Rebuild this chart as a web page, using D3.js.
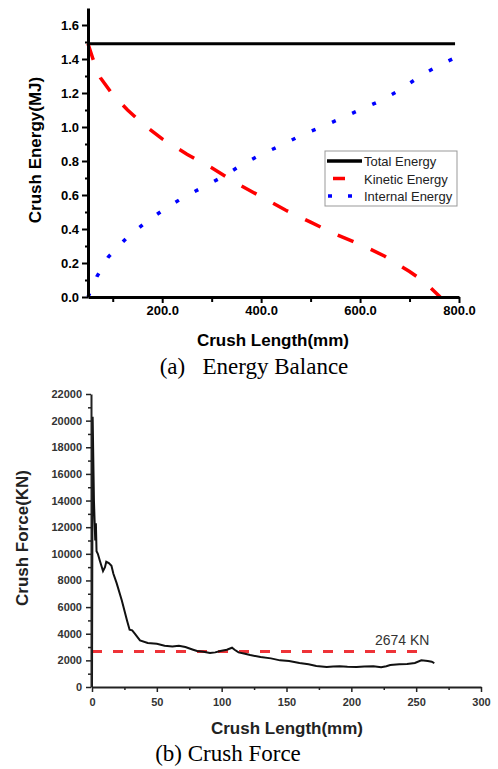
<!DOCTYPE html>
<html>
<head>
<meta charset="utf-8">
<script src="https://cdn.jsdelivr.net/npm/d3@7"></script>
<style>
    body { margin: 0; background: #fff; }
    svg { display: block; }
    .axis text { font-family: "Liberation Sans", Arial, sans-serif; font-weight: bold; fill: #000; }
    .axis2 text { fill: #333; }
</style>
</head>
<body>
<svg id="chart" width="498" height="769"></svg>
<script>
// (a) energy balance
var totalX = [50, 792];
var totalE = [1.49, 1.49];

var kineticX = [50, 60, 75, 100, 130, 160, 200, 250, 300, 350, 400, 450, 500, 550, 600, 650, 700, 730, 762];
var kineticE = [1.49, 1.40, 1.29, 1.19, 1.10, 1.02, 0.93, 0.84, 0.76, 0.67, 0.59, 0.51, 0.44, 0.37, 0.31, 0.24, 0.15, 0.09, 0.0];

var internalX = [50, 68, 91, 129, 167, 206, 245, 285, 324, 362, 401, 439, 480, 522, 561, 599, 638, 676, 717, 733, 772, 794];
var internalE = [0, 0.12, 0.235, 0.35, 0.44, 0.52, 0.59, 0.65, 0.71, 0.78, 0.84, 0.89, 0.95, 1.0, 1.05, 1.10, 1.15, 1.21, 1.29, 1.32, 1.38, 1.41];

var energyTicks = [0, 0.2, 0.4, 0.6, 0.8, 1.0, 1.2, 1.4, 1.6];
var energyMinor = [0.1, 0.3, 0.5, 0.7, 0.9, 1.1, 1.3, 1.5];
var lengthTicksA = [200, 400, 600, 800];
var lengthMinorA = [100, 300, 500, 700];
var legendNames = ["Total Energy", "Kinetic Energy", "Internal Energy"];

// (b) crush force
var crushX = [0, 0.5, 1.5, 2.5, 3, 3.5, 4.5, 6, 8.5, 10, 11, 13, 15, 16.5, 19, 23, 27, 29, 31, 33, 37, 43, 50, 56, 62, 67, 72, 78, 81, 86, 91, 95, 99, 104, 108, 110, 113, 118, 122, 130, 138, 145, 152, 160, 167, 173, 181, 186, 191, 197, 204, 210, 217, 223, 227, 230, 237, 243, 249, 254, 259, 262, 264];
var crushF = [0, 20300, 14000, 11000, 12300, 10200, 10000, 9500, 8700, 9000, 9400, 9300, 9100, 8500, 7800, 6500, 5000, 4300, 4250, 4000, 3500, 3300, 3250, 3100, 3050, 3100, 3000, 2800, 2700, 2650, 2550, 2600, 2700, 2800, 2950, 2800, 2600, 2500, 2400, 2250, 2150, 2000, 1950, 1800, 1700, 1580, 1500, 1540, 1560, 1520, 1500, 1540, 1560, 1480, 1560, 1650, 1700, 1720, 1800, 2000, 1950, 1900, 1800];
var averageForce = 2674;
var forceTicks = [0, 2000, 4000, 6000, 8000, 10000, 12000, 14000, 16000, 18000, 20000, 22000];
var forceMinor = [1000, 3000, 5000, 7000, 9000, 11000, 13000, 15000, 17000, 19000, 21000];
var lengthTicksB = [0, 50, 100, 150, 200, 250, 300];
var lengthMinorB = [25, 75, 125, 175, 225, 275];

var svg = d3.select("#chart");
svg.append("rect").attr("width", 498).attr("height", 769).attr("fill", "#fff");

function zip(xs, ys) {
    return xs.map(function (d, i) { return [d, ys[i]]; });
}

// ---------- chart (a) ----------
var xA = d3.scaleLinear().domain([50, 800]).range([88, 459]);
var yA = d3.scaleLinear().domain([0, 1.7]).range([297, 8]);

var gA = svg.append("g");

var lineA = d3.line()
    .x(function (d) { return xA(d[0]); })
    .y(function (d) { return yA(d[1]); });

gA.append("path")
    .datum(zip(totalX, totalE))
    .attr("d", lineA)
    .attr("fill", "none")
    .attr("stroke", "#000")
    .attr("stroke-width", 3);

gA.append("path")
    .datum(zip(kineticX, kineticE))
    .attr("d", lineA)
    .attr("fill", "none")
    .attr("stroke", "#ff0000")
    .attr("stroke-width", 3.5)
    .attr("stroke-dasharray", "17,19");

gA.append("path")
    .datum(zip(internalX, internalE))
    .attr("d", lineA)
    .attr("fill", "none")
    .attr("stroke", "#0000ff")
    .attr("stroke-width", 3.5)
    .attr("stroke-dasharray", "4,18");

// axes
var yAxisA = gA.append("g").attr("class", "axis")
    .attr("transform", "translate(88,0)")
    .call(d3.axisLeft(yA).tickValues(energyTicks).tickSize(6).tickSizeOuter(0).tickPadding(3).tickFormat(d3.format(".1f")));
yAxisA.selectAll("text").style("font-size", "13px");
gA.append("g").attr("transform", "translate(88,0)")
    .call(d3.axisLeft(yA).tickValues(energyMinor).tickSize(3).tickFormat(""))
    .select(".domain").remove();

var xAxisA = gA.append("g").attr("class", "axis")
    .attr("transform", "translate(0,297)")
    .call(d3.axisBottom(xA).tickValues(lengthTicksA).tickSize(6).tickSizeOuter(0).tickPadding(3).tickFormat(d3.format(".1f")));
xAxisA.selectAll("text").style("font-size", "13px");
gA.append("g").attr("transform", "translate(0,297)")
    .call(d3.axisBottom(xA).tickValues(lengthMinorA).tickSize(5).tickFormat(""))
    .select(".domain").remove();

gA.selectAll(".domain").attr("stroke-width", 3);
gA.selectAll(".tick line").attr("stroke-width", 2);

gA.append("text")
    .attr("transform", "translate(41,150)rotate(-90)")
    .attr("text-anchor", "middle")
    .style("font", "bold 17px 'Liberation Sans', Arial, sans-serif")
    .text("Crush Energy(MJ)");

gA.append("text")
    .attr("x", 273).attr("y", 346)
    .attr("text-anchor", "middle")
    .style("font", "bold 17px 'Liberation Sans', Arial, sans-serif")
    .text("Crush Length(mm)");

// legend
var legend = gA.append("g").attr("transform", "translate(325,151)");
legend.append("rect")
    .attr("width", 132).attr("height", 55)
    .attr("fill", "#fff").attr("stroke", "#999").attr("stroke-width", 1);
var legendStyles = [
    {color: "#000", dash: null, x1: 2, x2: 37},
    {color: "#ff0000", dash: null, x1: 8, x2: 20},
    {color: "#0000ff", dash: "4,16", x1: 3, x2: 27}
];
legendNames.forEach(function (name, i) {
    var yy = 10 + i * 17.5;
    var s = legendStyles[i];
    legend.append("line")
        .attr("x1", s.x1).attr("x2", s.x2).attr("y1", yy).attr("y2", yy)
        .attr("stroke", s.color).attr("stroke-width", 3.5)
        .attr("stroke-dasharray", s.dash);
    legend.append("text")
        .attr("x", 39).attr("y", yy + 5)
        .style("font", "13px 'Liberation Sans', Arial, sans-serif")
        .attr("fill", "#222")
        .text(name);
});

svg.append("text")
    .attr("x", 254).attr("y", 374)
    .attr("text-anchor", "middle")
    .attr("xml:space", "preserve")
    .style("font", "23px 'Liberation Serif', 'Times New Roman', serif")
    .text("(a)   Energy Balance");

// ---------- chart (b) ----------
var xB = d3.scaleLinear().domain([0, 300]).range([92, 481]);
var yB = d3.scaleLinear().domain([0, 22000]).range([687, 394]);

var gB = svg.append("g");

gB.append("line")
    .attr("x1", xB(0)).attr("x2", xB(258))
    .attr("y1", yB(averageForce)).attr("y2", yB(averageForce))
    .attr("stroke", "#ee3338")
    .attr("stroke-width", 3)
    .attr("stroke-dasharray", "10,11");

gB.append("path")
    .datum(zip(crushX, crushF))
    .attr("d", d3.line()
        .x(function (d) { return xB(d[0]); })
        .y(function (d) { return yB(d[1]); }))
    .attr("fill", "none")
    .attr("stroke", "#111")
    .attr("stroke-width", 2);

gB.append("text")
    .attr("x", 375).attr("y", 645)
    .style("font", "14px 'Liberation Sans', Arial, sans-serif")
    .attr("fill", "#333")
    .text(averageForce + " KN");

var yAxisB = gB.append("g").attr("class", "axis axis2")
    .attr("transform", "translate(91,0)")
    .call(d3.axisLeft(yB).tickValues(forceTicks).tickSize(5).tickSizeOuter(0).tickPadding(4).tickFormat(d3.format("d")));
yAxisB.selectAll("text").style("font-size", "11px");
gB.append("g").attr("transform", "translate(91,0)")
    .call(d3.axisLeft(yB).tickValues(forceMinor).tickSize(3).tickFormat(""))
    .select(".domain").remove();

var xAxisB = gB.append("g").attr("class", "axis axis2")
    .attr("transform", "translate(0,687)")
    .call(d3.axisBottom(xB).tickValues(lengthTicksB).tickSize(5).tickSizeOuter(0).tickPadding(6).tickFormat(d3.format("d")));
xAxisB.selectAll("text").style("font-size", "11px");
gB.append("g").attr("transform", "translate(0,687)")
    .call(d3.axisBottom(xB).tickValues(lengthMinorB).tickSize(3).tickFormat(""))
    .select(".domain").remove();

gB.selectAll(".domain").attr("stroke-width", 2).attr("stroke", "#222");
gB.selectAll(".tick line").attr("stroke-width", 1.5).attr("stroke", "#222");

gB.append("text")
    .attr("transform", "translate(28,538)rotate(-90)")
    .attr("text-anchor", "middle")
    .style("font", "bold 17px 'Liberation Sans', Arial, sans-serif")
    .attr("fill", "#222")
    .text("Crush Force(KN)");

gB.append("text")
    .attr("x", 287).attr("y", 734)
    .attr("text-anchor", "middle")
    .style("font", "bold 17px 'Liberation Sans', Arial, sans-serif")
    .attr("fill", "#222")
    .text("Crush Length(mm)");

svg.append("text")
    .attr("x", 228).attr("y", 761)
    .attr("text-anchor", "middle")
    .style("font", "23px 'Liberation Serif', 'Times New Roman', serif")
    .text("(b) Crush Force");
</script>
</body>
</html>
